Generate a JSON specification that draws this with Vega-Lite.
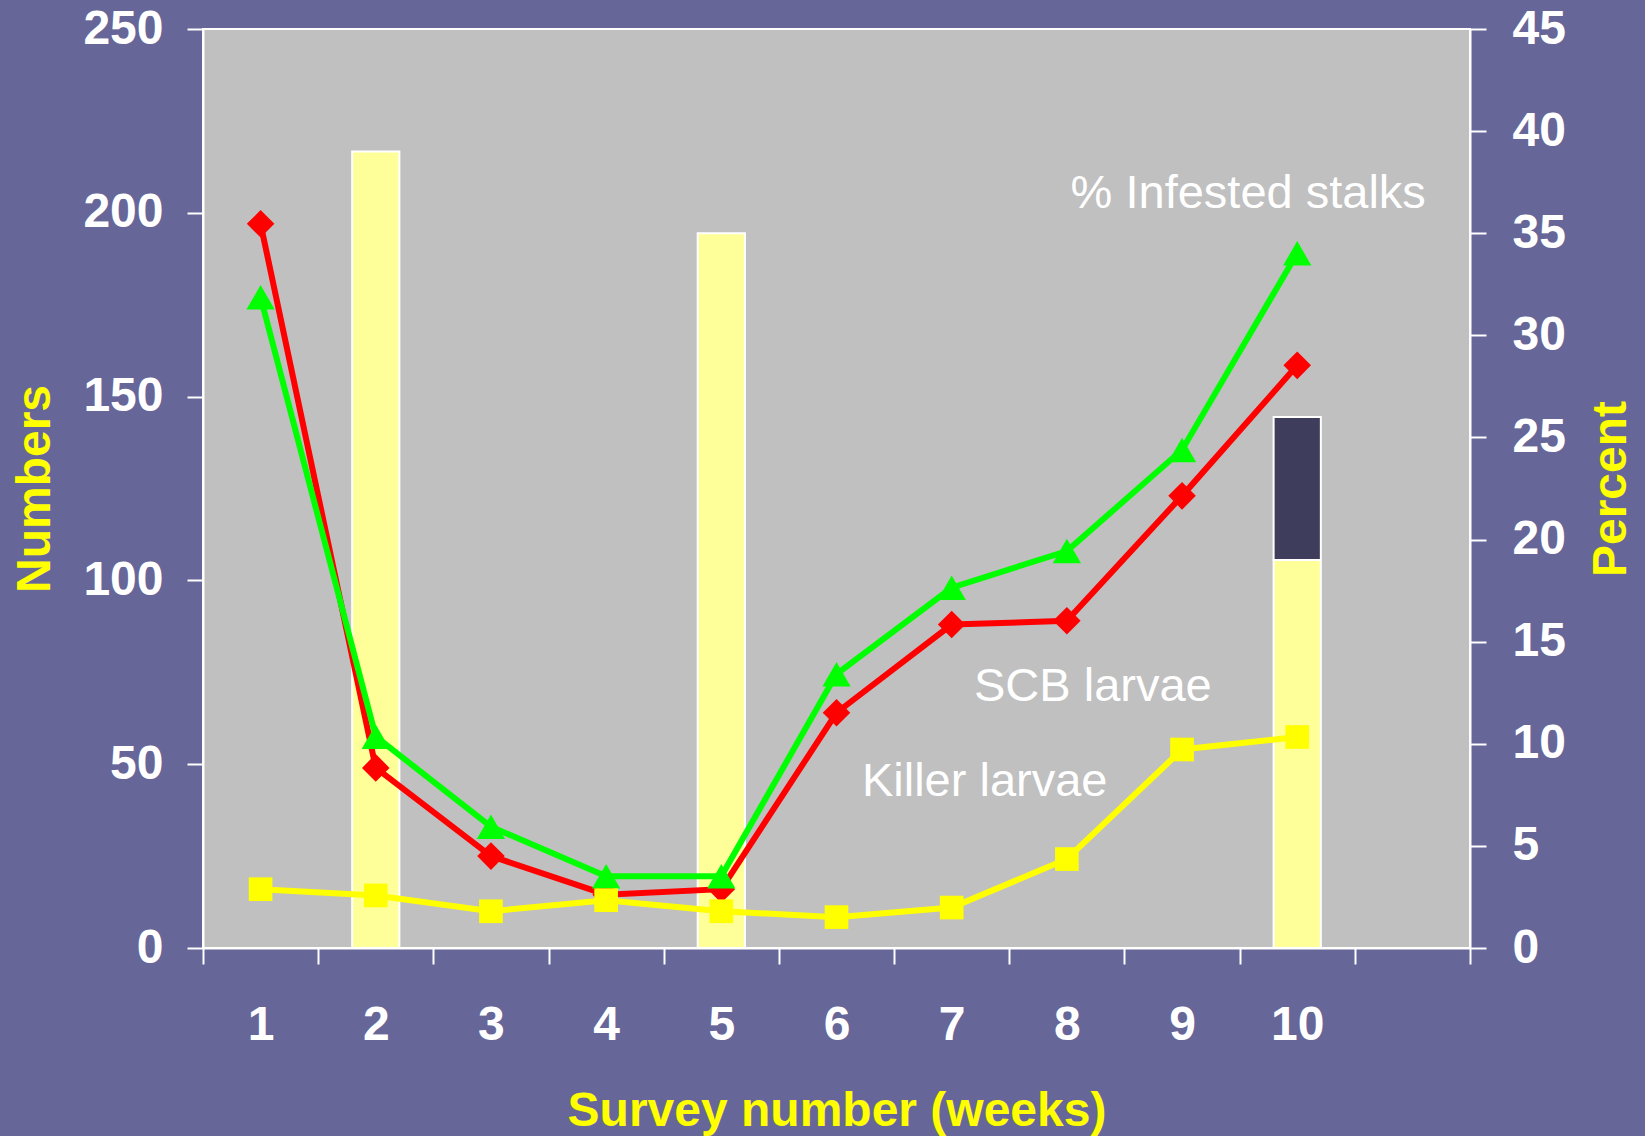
{
  "$schema": "https://vega.github.io/schema/vega-lite/v6.json",
  "autosize": "none",
  "width": 1267,
  "height": 919,
  "padding": {"left": 203, "top": 29, "right": 175, "bottom": 188},
  "background": "#666699",
  "config": {
    "view": {"fill": "#C0C0C0", "stroke": "#FFFFFF", "strokeWidth": 2},
    "font": "Liberation Sans",
    "axis": {
      "domainColor": "#FFFFFF", "domainWidth": 2,
      "tickColor": "#FFFFFF", "tickWidth": 2, "tickSize": 16,
      "grid": false,
      "labelColor": "#FFFFFF", "labelFont": "Liberation Sans", "labelFontSize": 48, "labelFontWeight": "bold",
      "titleColor": "#FFFF00", "titleFont": "Liberation Sans", "titleFontSize": 48, "titleFontWeight": "bold"
    }
  },
  "datasets": {
    "bars": [
      {"week": 2, "lo": 0, "hi": 39, "part": "infested"},
      {"week": 5, "lo": 0, "hi": 35, "part": "infested"},
      {"week": 10, "lo": 0, "hi": 19, "part": "infested"},
      {"week": 10, "lo": 19, "hi": 26, "part": "upper"}
    ],
    "counts": [
      {"week": 1, "series": "red", "value": 197},
      {"week": 2, "series": "red", "value": 49},
      {"week": 3, "series": "red", "value": 25},
      {"week": 4, "series": "red", "value": 14.5},
      {"week": 5, "series": "red", "value": 16},
      {"week": 6, "series": "red", "value": 64},
      {"week": 7, "series": "red", "value": 88},
      {"week": 8, "series": "red", "value": 89},
      {"week": 9, "series": "red", "value": 123},
      {"week": 10, "series": "red", "value": 158.5},
      {"week": 1, "series": "green", "value": 177},
      {"week": 2, "series": "green", "value": 57.5},
      {"week": 3, "series": "green", "value": 33},
      {"week": 4, "series": "green", "value": 19.5},
      {"week": 5, "series": "green", "value": 19.5},
      {"week": 6, "series": "green", "value": 74.5},
      {"week": 7, "series": "green", "value": 98},
      {"week": 8, "series": "green", "value": 108},
      {"week": 9, "series": "green", "value": 135.5},
      {"week": 10, "series": "green", "value": 189},
      {"week": 1, "series": "killer", "value": 16},
      {"week": 2, "series": "killer", "value": 14.3},
      {"week": 3, "series": "killer", "value": 10},
      {"week": 4, "series": "killer", "value": 13},
      {"week": 5, "series": "killer", "value": 10},
      {"week": 6, "series": "killer", "value": 8.4},
      {"week": 7, "series": "killer", "value": 11},
      {"week": 8, "series": "killer", "value": 24.2},
      {"week": 9, "series": "killer", "value": 54},
      {"week": 10, "series": "killer", "value": 57.4}
    ],
    "notes": [
      {"week": 10, "value": 201.3, "label": "% Infested stalks"},
      {"week": 8, "value": 67.3, "label": "SCB larvae"},
      {"week": 7, "value": 41.4, "label": "Killer larvae"}
    ]
  },
  "layer": [
    {
      "data": {"name": "bars"},
      "mark": {"type": "bar", "width": {"band": 0.41}, "stroke": "#FFFFFF", "strokeWidth": 2},
      "encoding": {
        "x": {
          "field": "week", "type": "ordinal",
          "scale": {"domain": [1, 2, 3, 4, 5, 6, 7, 8, 9, 10, 11], "paddingInner": 0, "paddingOuter": 0},
          "axis": {"title": "Survey number (weeks)", "tickBand": "extent", "labelAngle": 0, "labelPadding": 37, "titlePadding": 38, "labelExpr": "datum.value == 11 ? '' : datum.label"}
        },
        "y": {
          "field": "hi", "type": "quantitative",
          "scale": {"domain": [0, 45], "nice": false},
          "axis": {"orient": "right", "title": "Percent", "values": [0, 5, 10, 15, 20, 25, 30, 35, 40, 45], "labelPadding": 26, "labelAlign": "left", "titlePadding": 22, "titleAngle": -90, "titleBaseline": "top"}
        },
        "y2": {"field": "lo"},
        "color": {"field": "part", "type": "nominal", "scale": {"domain": ["infested", "upper"], "range": ["#FFFF99", "#3E3D5B"]}, "legend": null}
      }
    },
    {
      "encoding": {
        "x": {
          "field": "week", "type": "ordinal",
          "scale": {"domain": [1, 2, 3, 4, 5, 6, 7, 8, 9, 10, 11], "paddingInner": 0, "paddingOuter": 0},
          "axis": {"title": "Survey number (weeks)", "tickBand": "extent", "labelAngle": 0, "labelPadding": 37, "titlePadding": 38, "labelExpr": "datum.value == 11 ? '' : datum.label"}
        },
        "y": {
          "field": "value", "type": "quantitative",
          "scale": {"domain": [0, 250], "nice": false},
          "axis": {"orient": "left", "title": "Numbers", "values": [0, 50, 100, 150, 200, 250], "labelPadding": 24, "titlePadding": 23}
        }
      },
      "layer": [
        {
          "data": {"name": "counts"},
          "transform": [{"filter": "datum.series == 'red'"}],
          "mark": {"type": "line", "color": "#FF0000", "strokeWidth": 6}
        },
        {
          "data": {"name": "counts"},
          "transform": [{"filter": "datum.series == 'red'"}],
          "mark": {"type": "point", "shape": "diamond", "filled": true, "color": "#FF0000", "size": 760, "opacity": 1}
        },
        {
          "data": {"name": "counts"},
          "transform": [{"filter": "datum.series == 'green'"}],
          "mark": {"type": "line", "color": "#00FF00", "strokeWidth": 6}
        },
        {
          "data": {"name": "counts"},
          "transform": [{"filter": "datum.series == 'green'"}],
          "mark": {"type": "point", "shape": "triangle-up", "filled": true, "color": "#00FF00", "size": 800, "opacity": 1}
        },
        {
          "data": {"name": "counts"},
          "transform": [{"filter": "datum.series == 'killer'"}],
          "mark": {"type": "line", "color": "#FFFF00", "strokeWidth": 6}
        },
        {
          "data": {"name": "counts"},
          "transform": [{"filter": "datum.series == 'killer'"}],
          "mark": {"type": "point", "shape": "square", "filled": true, "color": "#FFFF00", "size": 560, "opacity": 1}
        },
        {
          "data": {"name": "notes"},
          "transform": [{"filter": "datum.label == '% Infested stalks'"}],
          "mark": {"type": "text", "color": "#FFFFFF", "font": "Liberation Sans", "fontSize": 47, "align": "center", "baseline": "alphabetic", "dx": -49},
          "encoding": {"text": {"field": "label"}}
        },
        {
          "data": {"name": "notes"},
          "transform": [{"filter": "datum.label == 'SCB larvae'"}],
          "mark": {"type": "text", "color": "#FFFFFF", "font": "Liberation Sans", "fontSize": 47, "align": "center", "baseline": "alphabetic", "dx": 26},
          "encoding": {"text": {"field": "label"}}
        },
        {
          "data": {"name": "notes"},
          "transform": [{"filter": "datum.label == 'Killer larvae'"}],
          "mark": {"type": "text", "color": "#FFFFFF", "font": "Liberation Sans", "fontSize": 47, "align": "center", "baseline": "alphabetic", "dx": 33},
          "encoding": {"text": {"field": "label"}}
        }
      ]
    }
  ],
  "resolve": {"scale": {"y": "independent"}, "axis": {"y": "independent"}}
}
